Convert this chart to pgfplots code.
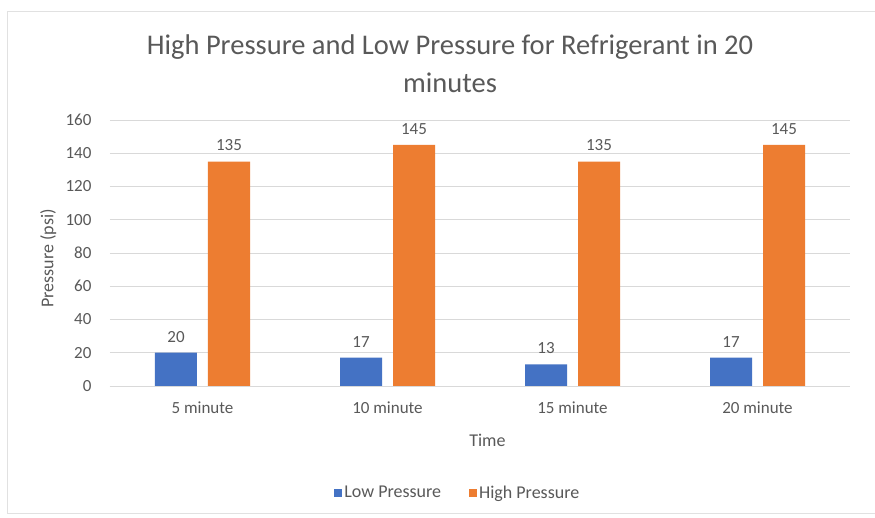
\documentclass[border=0pt]{standalone}
\usepackage{pgfplots}
\pgfplotsset{compat=1.18}
\usepackage{fontspec}
\setmainfont{Carlito}
\definecolor{lowc}{HTML}{4472C4}
\definecolor{highc}{HTML}{ED7D31}
\definecolor{txt}{HTML}{595959}
\definecolor{gridc}{HTML}{D9D9D9}
\begin{document}
\begin{tikzpicture}[x=1pt,y=1pt]
\useasboundingbox (-110,-132) rectangle (765,386);
\fill[white] (-110,-132) rectangle (765,386);
\draw[gridc!80!white, line width=1pt] (-102,-128) rectangle (770,374);
\begin{axis}[
  at={(0,0)}, anchor=south west,
  scale only axis, width=740pt, height=266pt,
  xmin=-0.5, xmax=3.5, ymin=0, ymax=160,
  ytick={0,20,...,160},
  xtick={0,1,2,3},
  xticklabels={5 minute,10 minute,15 minute,20 minute},
  ymajorgrids, major grid style={gridc, line width=0.8pt},
  axis x line*=bottom, axis y line*=left,
  x axis line style={gridc, line width=0.8pt, -},
  y axis line style={draw=none},
  major tick length=0pt,
  tick label style={font=\fontsize{17}{20}\selectfont, text=txt},
  /pgf/number format/assume math mode=true,
  yticklabel style={xshift=-15pt},
  xticklabel style={yshift=-12pt},
  ylabel={Pressure (psi)}, xlabel={Time},
  label style={font=\fontsize{18}{21}\selectfont, text=txt},
  ylabel style={at={(axis description cs:-0.068,0.48)}},
  xlabel style={at={(axis description cs:0.51,-0.166)}},
  ybar=0pt, bar width=42pt,
  nodes near coords,
  every node near coord/.append style={font=\fontsize{17}{20}\selectfont, text=txt, yshift=7pt},
  legend columns=2,
  legend style={at={(axis description cs:0.47,-0.402)}, anchor=center, draw=none,
    font=\fontsize{18}{21}\selectfont, text=txt,
    /tikz/every even column/.append style={column sep=26pt}},
  legend image code/.code={\fill[#1] (-8pt,-4pt) rectangle (0pt,4pt);},
  clip=false,
]
\addplot[fill=lowc, draw=none, bar shift=-26.5pt] coordinates {(0,20) (1,17) (2,13) (3,17)};
\addplot[fill=highc, draw=none, bar shift=26.5pt] coordinates {(0,135) (1,145) (2,135) (3,145)};
\legend{Low Pressure, High Pressure}
\end{axis}
\node[text=txt, font=\fontsize{28.5}{38}\selectfont, align=center] at (340,322) {High Pressure and Low Pressure for Refrigerant in 20\\minutes};
\end{tikzpicture}
\end{document}
